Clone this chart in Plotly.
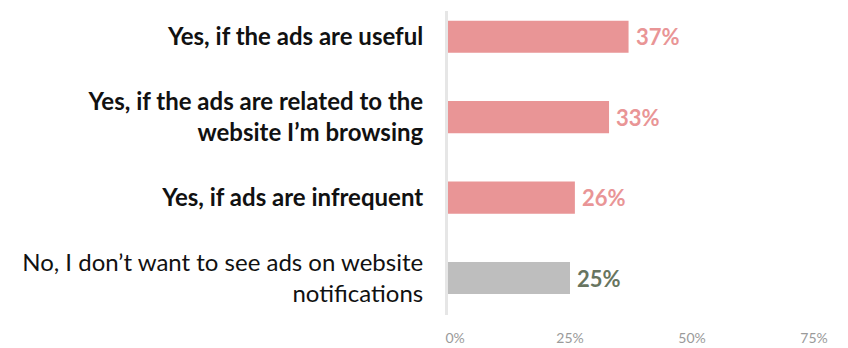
import plotly.graph_objects as go

# Survey answers and their shares (%)
categories = [
    "<b>Yes, if the ads are useful</b>",
    "<b>Yes, if the ads are related to the<br>website I’m browsing</b>",
    "<b>Yes, if ads are infrequent</b>",
    "No, I don’t want to see ads on website<br>notifications",
]
values = [37, 33, 26, 25]
bar_colors = ["#E99596", "#E99596", "#E99596", "#BEBEBE"]
label_colors = ["#E99596", "#E99596", "#E99596", "#687560"]
x_ticks = [0, 25, 50, 75]
x_tick_labels = ["0%", "25%", "50%", "75%"]

fig = go.Figure()
fig.add_trace(go.Bar(
    y=list(range(len(categories))),
    x=values,
    orientation="h",
    marker=dict(color=bar_colors, line=dict(width=0)),
    width=0.4,
    hoverinfo="skip",
))

for i, v in enumerate(values):
    fig.add_annotation(
        x=v, y=i, xref="x", yref="y",
        text=f"<b>{v}%</b>",
        showarrow=False, xanchor="left", yanchor="middle",
        xshift=5,
        font=dict(family="Lato", size=22, color=label_colors[i]),
    )

# nudge the first tick label so it starts at the axis line
tick_text = ["\u00a0" * 4 + x_tick_labels[0]] + x_tick_labels[1:]

fig.update_layout(
    width=848, height=348,
    margin=dict(l=448, r=34, t=11, b=33),
    plot_bgcolor="white", paper_bgcolor="white",
    showlegend=False,
    font=dict(family="Lato"),
    xaxis=dict(
        range=[0, 75],
        tickvals=x_ticks, ticktext=tick_text,
        showgrid=False, zeroline=False, showline=False,
        tickfont=dict(family="Lato", size=14, color="#9A9A9A"),
        ticklabelstandoff=13,
        automargin=False,
        fixedrange=True,
    ),
    yaxis=dict(
        range=[3.46, -0.32],
        tickvals=list(range(len(categories))), ticktext=categories,
        showgrid=False, zeroline=False,
        showline=True, linecolor="#E6E6E6", linewidth=3,
        tickfont=dict(family="Lato", size=24, color="#111111"),
        ticklabelstandoff=17,
        automargin=False,
        fixedrange=True,
    ),
)

fig.write_html("out.html")
